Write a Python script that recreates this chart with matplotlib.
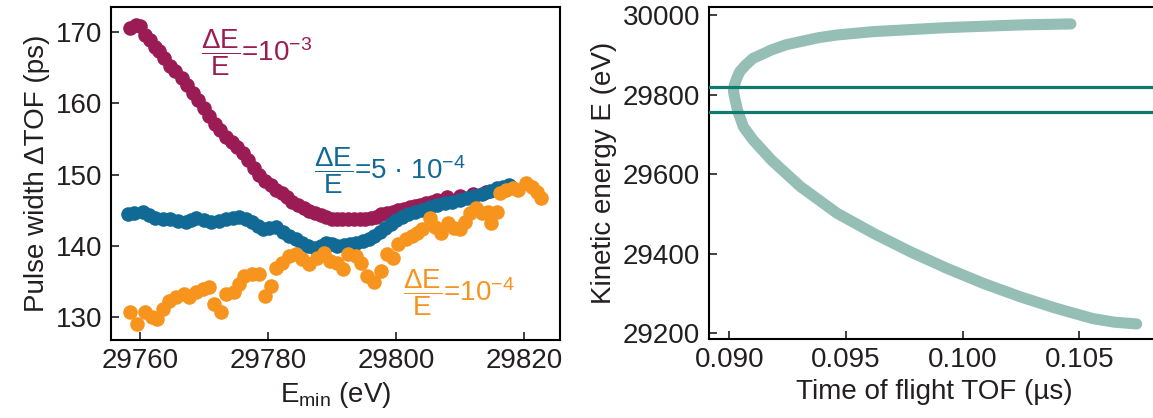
import matplotlib
matplotlib.use("Agg")
import matplotlib.pyplot as plt
import numpy as np

# ---- left panel: pulse width vs E_min ----
emin_m = [29758.4, 29759.3, 29760.0, 29760.8, 29761.5, 29762.3, 29763.0, 29763.8, 29764.7, 29765.5,
          29766.5, 29767.3, 29768.2, 29769.1, 29770.0, 29770.8, 29771.7, 29772.5, 29773.4, 29774.3,
          29775.2, 29776.0, 29776.9, 29777.8, 29778.6, 29779.5, 29780.4, 29781.2, 29782.1, 29783.0,
          29783.8, 29784.7, 29785.6, 29786.4, 29787.3, 29788.2, 29789.0, 29789.9, 29790.8, 29791.6,
          29792.5, 29793.4, 29794.3, 29795.1, 29796.0, 29796.9, 29797.7, 29798.6, 29799.5, 29800.3,
          29801.2, 29802.1, 29803.0, 29803.8, 29804.7, 29805.6, 29806.4, 29808.0, 29810.0, 29812.0,
          29814.0, 29816.0, 29818.0]
width_m = [170.6, 171.0, 170.8, 169.6, 168.8, 167.9, 167.3, 166.4, 165.2, 164.5,
           163.6, 162.6, 161.5, 160.4, 159.4, 158.2, 157.1, 156.2, 155.3, 154.6,
           153.9, 153.0, 152.0, 150.9, 149.9, 149.1, 148.5, 147.9, 147.4, 146.8,
           146.2, 145.7, 145.3, 144.9, 144.6, 144.3, 144.0, 143.8, 143.7, 143.7,
           143.7, 143.7, 143.7, 143.8, 143.9, 144.1, 144.4, 144.6, 144.8, 145.0,
           145.2, 145.4, 145.6, 145.8, 146.0, 146.2, 146.5, 146.8, 147.0, 147.3,
           147.6, 148.0, 148.3]

emin_b = [29758.1, 29759.0, 29760.4, 29761.4, 29762.4, 29763.5, 29764.7, 29765.9, 29767.1, 29768.0,
          29768.8, 29770.0, 29771.1, 29772.3, 29773.4, 29774.5, 29775.5, 29776.5, 29777.5, 29778.4,
          29779.2, 29780.2, 29781.2, 29782.3, 29783.3, 29784.3, 29785.3, 29786.3, 29787.3, 29788.2,
          29789.0, 29789.9, 29790.8, 29791.8, 29792.8, 29793.8, 29794.8, 29795.7, 29796.6, 29797.5,
          29798.3, 29799.2, 29800.0, 29800.9, 29801.8, 29803.0, 29804.1, 29805.3, 29806.4, 29807.6,
          29808.7, 29809.9, 29811.0, 29812.2, 29813.4, 29814.6, 29815.7, 29816.7, 29817.7]
width_b = [144.4, 144.6, 144.8, 144.3, 143.9, 143.8, 143.7, 143.5, 143.3, 143.6,
           143.9, 143.6, 143.3, 143.5, 143.7, 143.9, 144.1, 143.7, 143.3, 142.8,
           142.3, 142.5, 142.7, 142.0, 141.4, 140.9, 140.4, 140.0, 139.7, 140.0,
           140.4, 140.2, 140.0, 140.1, 140.2, 140.4, 140.7, 141.0, 141.4, 141.9,
           142.5, 143.0, 143.6, 144.0, 144.4, 144.8, 145.1, 145.5, 145.8, 146.0,
           146.2, 146.5, 146.7, 147.0, 147.3, 147.7, 148.1, 148.3, 148.5]

emin_o = [29758.4, 29759.5, 29760.7, 29761.9, 29762.7, 29763.6, 29764.5, 29765.6, 29766.8, 29767.6,
          29768.8, 29769.9, 29770.8, 29771.6, 29772.6, 29773.4, 29774.6, 29775.5, 29776.3, 29777.5,
          29778.6, 29779.5, 29780.4, 29781.2, 29782.1, 29783.3, 29784.4, 29785.3, 29786.4, 29787.6,
          29788.8, 29789.6, 29790.8, 29791.7, 29792.5, 29793.7, 29794.5, 29795.4, 29796.6, 29797.7,
          29798.6, 29799.5, 29800.3, 29801.5, 29802.4, 29803.2, 29804.1, 29805.3, 29806.1, 29807.0,
          29808.1, 29809.0, 29809.9, 29810.8, 29811.6, 29812.5, 29813.4, 29814.3, 29814.8, 29815.7,
          29816.3, 29817.1, 29818.3, 29819.1, 29820.3, 29821.2, 29822.0, 29822.6]
width_o = [130.7, 129.1, 130.7, 130.0, 129.8, 131.2, 132.3, 132.8, 133.2, 132.8,
           133.5, 133.9, 134.2, 131.9, 130.7, 133.2, 133.5, 134.6, 135.8, 136.0,
           136.0, 133.0, 134.4, 136.9, 137.6, 138.6, 138.8, 138.1, 137.4, 138.3,
           139.0, 137.9, 137.6, 136.7, 138.8, 138.6, 137.6, 135.8, 134.9, 136.5,
           138.8, 138.3, 140.2, 140.9, 141.4, 141.8, 142.3, 143.9, 142.7, 141.8,
           143.2, 142.5, 142.3, 143.4, 144.6, 145.3, 144.6, 144.8, 143.2, 144.8,
           147.4, 147.8, 148.1, 147.8, 148.8, 148.3, 147.6, 146.7]

# ---- right panel: kinetic energy vs time of flight ----
tof = [0.10464, 0.10245, 0.09932, 0.09618, 0.09462, 0.09384, 0.09305, 0.09243, 0.09180, 0.09133,
       0.09102, 0.09070, 0.09045, 0.09030, 0.09020, 0.09018, 0.09022, 0.09035, 0.09060, 0.09102,
       0.09180, 0.09305, 0.09462, 0.09618, 0.09775, 0.09932, 0.10088, 0.10245, 0.10401, 0.10558,
       0.10650, 0.10746]
energy = [29977.4, 29974.9, 29968.2, 29958.1, 29949.7, 29943.0, 29933.0, 29925.0, 29912.0, 29899.0,
          29891.1, 29874.0, 29857.6, 29838.0, 29819.9, 29808.0, 29795.0, 29761.3, 29719.4, 29685.9,
          29635.6, 29568.6, 29501.6, 29451.3, 29405.2, 29363.4, 29325.7, 29292.1, 29262.8, 29237.0,
          29228.0, 29223.5]
e_window = [29755, 29818]

magenta = "#9b1b55"
blue = "#106a95"
orange = "#f7941e"
sage = "#95bfb5"
teal = "#107a6f"

plt.rcParams['font.family'] = ['Liberation Sans', 'DejaVu Sans']
plt.rcParams['mathtext.fontset'] = 'custom'
plt.rcParams['mathtext.rm'] = 'Liberation Sans'
plt.rcParams['mathtext.it'] = 'Liberation Sans:italic'
plt.rcParams['font.size'] = 20
plt.rcParams['text.color'] = '#231f20'
plt.rcParams['axes.labelcolor'] = '#231f20'
plt.rcParams['xtick.color'] = '#231f20'
plt.rcParams['ytick.color'] = '#231f20'

fig = plt.figure(figsize=(11.53, 4.18), dpi=100)
ax1 = fig.add_axes([0.0960, 0.1866, 0.3897, 0.7967])
ax2 = fig.add_axes([0.6145, 0.1890, 0.3916, 0.7943])

ms = 110
ax1.scatter(emin_m, width_m, s=ms, color=magenta, lw=0, zorder=2)
ax1.scatter(emin_b, width_b, s=ms, color=blue, lw=0, zorder=3)
ax1.scatter(emin_o, width_o, s=ms, color=orange, lw=0, zorder=4)

ax1.text(29769.5, 167.1, r'$\dfrac{\Delta\mathrm{E}}{\mathrm{E}}$=10$^{-3}$', color=magenta,
         va='center', ha='left', fontsize=20)
ax1.text(29787.2, 150.6, r'$\dfrac{\Delta\mathrm{E}}{\mathrm{E}}$=5 · 10$^{-4}$', color=blue,
         va='center', ha='left', fontsize=20)
ax1.text(29801.1, 133.5, r'$\dfrac{\Delta\mathrm{E}}{\mathrm{E}}$=10$^{-4}$', color=orange,
         va='center', ha='left', fontsize=20)

ax1.set_xlim(29755.4, 29825.6)
ax1.set_ylim(126.8, 173.5)
ax1.set_xticks([29760, 29780, 29800, 29820])
ax1.set_yticks([130, 140, 150, 160, 170])
ax1.set_xlabel(r'E$_{\mathrm{min}}$ (eV)')
ax1.set_ylabel('Pulse width ΔTOF (ps)')

ax2.plot(tof, energy, color=sage, lw=8, solid_capstyle='round', solid_joinstyle='round', zorder=2)
for e in e_window:
    ax2.axhline(e, color=teal, lw=2.3, zorder=3)
ax2.set_xlim(0.08911, 0.10846)
ax2.set_ylim(29185.7, 30020)
ax2.set_xticks([0.090, 0.095, 0.100, 0.105])
ax2.set_xticklabels(['0.090', '0.095', '0.100', '0.105'])
ax2.set_yticks([29200, 29400, 29600, 29800, 30000])
ax2.set_xlabel('Time of flight TOF (µs)')
ax2.set_ylabel('Kinetic energy E (eV)')

for ax in (ax1, ax2):
    for sp in ax.spines.values():
        sp.set_linewidth(1.5)
    ax.tick_params(direction='in', length=6, width=1.2, labelsize=20, pad=6)

fig.savefig('out.png', dpi=100)
